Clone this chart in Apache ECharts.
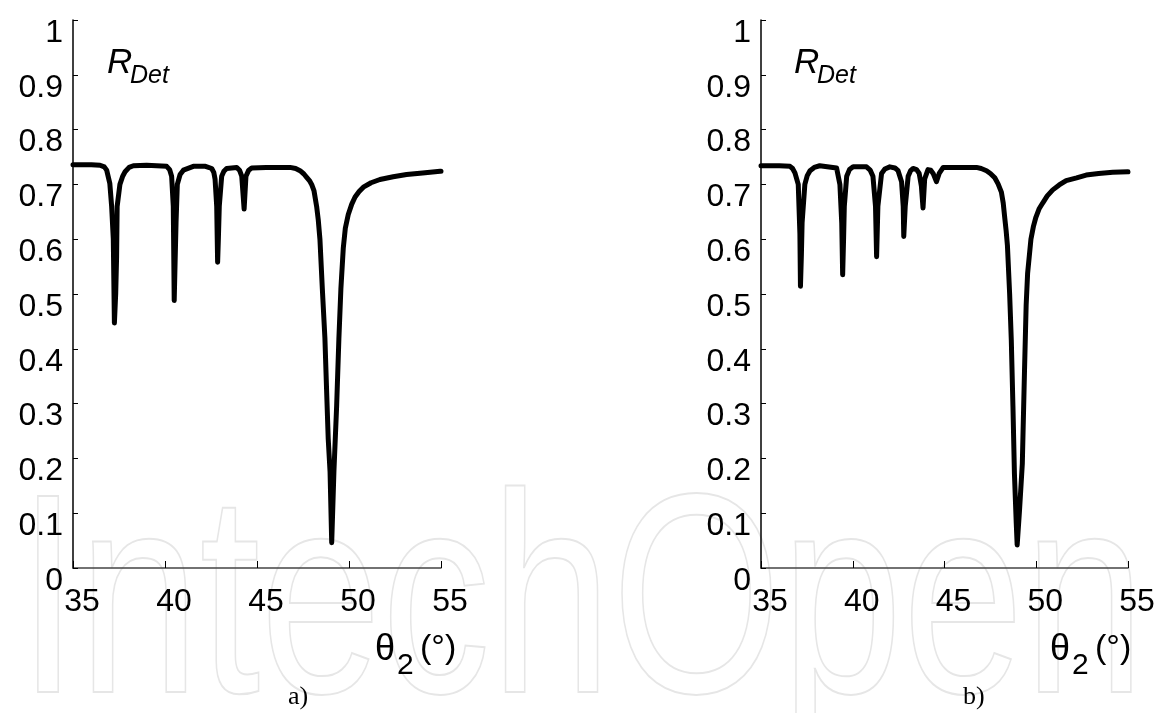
<!DOCTYPE html>
<html>
<head>
<meta charset="utf-8">
<script src="https://cdn.jsdelivr.net/npm/echarts@6/dist/echarts.min.js"></script>
<style>
    html, body { margin: 0; padding: 0; background: #fff; }
    #main { width: 1161px; height: 713px; }
</style>
</head>
<body>
<div id="main"></div>
<script>
// panel a) - angle and reflectance
var thetaA = [35, 36.0, 36.47, 36.7, 36.83, 37.0, 37.1, 37.19, 37.25, 37.32, 37.37, 37.4, 37.55, 37.7, 37.83, 38.05, 38.28, 39.0,
    40.09, 40.25, 40.36, 40.45, 40.5, 40.55, 40.6, 40.67, 40.82, 41.0, 41.54, 42.2, 42.54, 42.65, 42.72, 42.81, 42.86, 42.9, 42.95,
    43.08, 43.2, 43.35, 43.9, 44.05, 44.17, 44.3, 44.4, 44.55, 44.71, 45.5, 46.3, 46.8, 47.1, 47.34, 47.55, 47.7, 47.85, 47.97,
    48.1, 48.24, 48.33, 48.42, 48.55, 48.69, 48.78, 48.87, 48.97, 49.06, 49.18, 49.33, 49.45, 49.56, 49.69, 49.8, 49.96,
    50.15, 50.33, 50.55, 50.78, 51.2, 51.68, 52.4, 53.13, 54.0, 54.95, 55];
var rDetA = [0.736, 0.736, 0.735, 0.732, 0.726, 0.702, 0.66, 0.60, 0.447, 0.50, 0.568, 0.66, 0.70, 0.715, 0.723, 0.731, 0.734, 0.735,
    0.733, 0.727, 0.715, 0.66, 0.488, 0.56, 0.63, 0.70, 0.718, 0.726, 0.733, 0.733, 0.729, 0.722, 0.71, 0.66, 0.558, 0.60, 0.66,
    0.715, 0.724, 0.729, 0.731, 0.726, 0.715, 0.655, 0.715, 0.726, 0.73, 0.731, 0.731, 0.731, 0.729, 0.725, 0.719, 0.713, 0.707, 0.70,
    0.688, 0.66, 0.635, 0.60, 0.51, 0.42, 0.327, 0.236, 0.176, 0.046, 0.176, 0.297, 0.418, 0.51, 0.584, 0.62, 0.645,
    0.664, 0.677, 0.687, 0.695, 0.703, 0.709, 0.714, 0.718, 0.721, 0.724, 0.724];

// panel b)
var thetaB = [35, 36.0, 36.58, 36.72, 36.85, 37.03, 37.12, 37.15, 37.2, 37.24, 37.39, 37.52, 37.67, 37.9, 38.2, 39.12, 39.3, 39.4,
    39.45, 39.5, 39.54, 39.67, 39.82, 40.02, 40.75, 40.95, 41.1, 41.24, 41.3, 41.37, 41.57, 41.75, 42.02, 42.3, 42.47, 42.66, 42.75, 42.78,
    42.86, 43.02, 43.15, 43.29, 43.48, 43.62, 43.74, 43.83, 43.92, 44.1, 44.25, 44.38, 44.56, 44.71, 44.93, 45.8, 46.74, 47.0, 47.29, 47.5,
    47.74, 47.92, 48.1, 48.2, 48.28, 48.36, 48.43, 48.55, 48.64, 48.73, 48.81, 48.91, 48.96, 49.09, 49.24, 49.36, 49.45, 49.53, 49.71,
    49.85, 49.98, 50.15, 50.35, 50.6, 50.9, 51.25, 51.63, 52.2, 52.72, 53.4, 54.17, 55];
var rDetB = [0.734, 0.734, 0.733, 0.729, 0.721, 0.70, 0.61, 0.514, 0.57, 0.63, 0.70, 0.716, 0.725, 0.731, 0.734, 0.73, 0.70, 0.63,
    0.535, 0.60, 0.66, 0.715, 0.727, 0.732, 0.732, 0.726, 0.715, 0.66, 0.568, 0.66, 0.72, 0.728, 0.732, 0.73, 0.725, 0.705, 0.66, 0.605,
    0.66, 0.715, 0.725, 0.729, 0.727, 0.72, 0.697, 0.657, 0.71, 0.727, 0.726, 0.72, 0.705, 0.72, 0.731, 0.731, 0.731, 0.729, 0.725, 0.72,
    0.712, 0.701, 0.686, 0.666, 0.64, 0.615, 0.588, 0.50, 0.416, 0.295, 0.173, 0.082, 0.042, 0.106, 0.19, 0.36, 0.48, 0.538, 0.60,
    0.624, 0.64, 0.655, 0.666, 0.679, 0.69, 0.699, 0.707, 0.712, 0.717, 0.72, 0.722, 0.723];

var xTicks = { min: 35, max: 55, interval: 5 };
var yTicks = { min: 0, max: 1, interval: 0.1 };
var panelLabels = ['a)', 'b)'];

var sansFont = '"Liberation Sans", Arial, Helvetica, sans-serif';

function pairs(xs, ys) {
    var out = [];
    for (var i = 0; i < xs.length; i++) {
        out.push([xs[i], ys[i]]);
    }
    return out;
}

function makeX(gridIndex) {
    return {
        type: 'value', gridIndex: gridIndex,
        min: xTicks.min, max: xTicks.max, interval: xTicks.interval,
        axisLine: { lineStyle: { color: '#444', width: 1.5 } },
        axisTick: { inside: true, length: 7, lineStyle: { color: '#000' } },
        splitLine: { show: false },
        axisLabel: {
            color: '#000', fontSize: 32, fontFamily: sansFont,
            margin: 18, padding: [0, 0, 0, 18]
        }
    };
}

function makeY(gridIndex) {
    return {
        type: 'value', gridIndex: gridIndex,
        min: yTicks.min, max: yTicks.max, interval: yTicks.interval,
        axisLine: { show: true, lineStyle: { color: '#000', width: 1.5 } },
        axisTick: { show: true, inside: true, length: 5, lineStyle: { color: '#000' } },
        splitLine: { show: false },
        axisLabel: {
            color: '#000', fontSize: 32, fontFamily: sansFont,
            margin: 10,
            // labels in the original hang below their ticks
            verticalAlign: 'top', lineHeight: 26,
            formatter: function (v) {
                if (v === 0 || v === 1) return String(v);
                return v.toFixed(1);
            }
        }
    };
}

function makeLine(i, xs, ys) {
    return {
        type: 'line', xAxisIndex: i, yAxisIndex: i,
        data: pairs(xs, ys),
        showSymbol: false, symbol: 'none',
        lineStyle: { color: '#000', width: 5, join: 'round', cap: 'round' },
        animation: false
    };
}

// RDet label + theta axis name, built for each panel
function panelText(rx, thx, labelX, label) {
    return [
        { type: 'text', left: rx, top: 46, style: { text: 'R', font: 'italic 35px ' + sansFont, fill: '#000' } },
        { type: 'text', left: rx + 23, top: 64, style: { text: 'Det', font: 'italic 25px ' + sansFont, fill: '#000' } },
        { type: 'text', left: thx, top: 632, style: { text: 'θ', font: '36px ' + sansFont, fill: '#000' } },
        { type: 'text', left: thx + 22, top: 651, style: { text: '2', font: '30px ' + sansFont, fill: '#000' } },
        { type: 'text', left: thx + 45, top: 632, style: { text: '(°)', font: '34px ' + sansFont, fill: '#000' } },
        { type: 'text', left: labelX, top: 684, style: { text: label, font: '26px "Liberation Serif", "Times New Roman", serif', fill: '#000' } }
    ];
}

var myChart = echarts.init(document.getElementById('main'), null, { renderer: 'canvas' });

var graphics = [
    // faint watermark behind everything
    {
        type: 'text', left: 17, top: 470, z: -10, scaleX: 0.765,
        style: { text: 'IntechOpen', font: '285px ' + sansFont, fill: 'rgba(0,0,0,0)', stroke: '#e6e6e6', lineWidth: 2 }
    }
].concat(panelText(107, 375, 288, panelLabels[0]), panelText(794, 1050, 963, panelLabels[1]));

var option = {
    backgroundColor: '#fff',
    animation: false,
    grid: [
        { left: 73, right: 720, top: 20, bottom: 145 },
        { left: 761, right: 33, top: 20, bottom: 145 }
    ],
    xAxis: [makeX(0), makeX(1)],
    yAxis: [makeY(0), makeY(1)],
    series: [makeLine(0, thetaA, rDetA), makeLine(1, thetaB, rDetB)],
    graphic: graphics
};

myChart.setOption(option);
</script>
</body>
</html>
